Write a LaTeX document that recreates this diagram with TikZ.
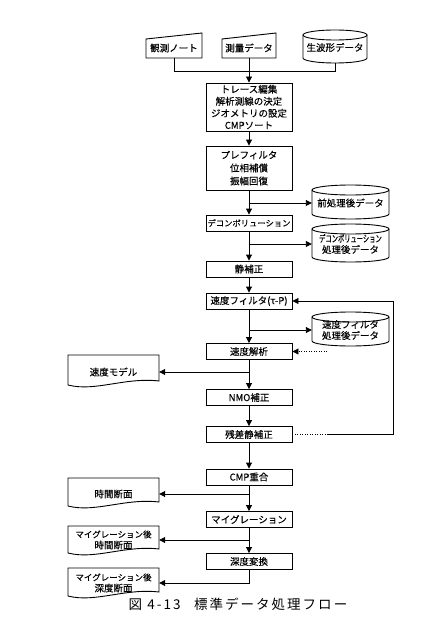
\documentclass[tikz,border=0pt]{standalone}
\usepackage{fontspec}
\usepackage{graphicx}
\setmainfont{Noto Sans CJK JP}[FakeBold=0.3]
\newfontfamily\capfont{Noto Sans CJK JP}[LetterSpace=15]
\usetikzlibrary{arrows.meta,calc}
\newcommand\mydrum[6]{%
  \pgfmathsetmacro\dcx{(#2+#4)/2}%
  \pgfmathsetmacro\drx{(#4-#2)/2}%
  \pgfmathsetmacro\dk{0.5523*\drx}%
  \draw[line] (#2,#3+5) -- (#2,#5-5) .. controls (#2,#5-2.24) and (\dcx-\dk,#5) .. (\dcx,#5) .. controls (\dcx+\dk,#5) and (#4,#5-2.24) .. (#4,#5-5) -- (#4,#3+5);
  \draw[line] (\dcx,#3+5) ellipse [x radius=\drx, y radius=5];
  \node[txt, minimum width={#4-#2}] (#1) at (\dcx,{(#3+#5)/2+1}) {#6};
  \coordinate (#1-b) at (\dcx,#5);
}
\newcommand\mydoc[5]{%
  \draw[line] (68,#2) -- (159,#2) -- (159,#3-4) .. controls (125,#3-8) and (95,#3+7) .. (68,#3) -- cycle;
  \node[txt, minimum width=91pt] (#1) at (113.5,#4) {#5};
}
\newcommand\mymanual[4]{%
  \draw[line] (#2,58) -- (#2,39) -- (#3,33) -- (#3,58) -- cycle;
  \node[txt, minimum width={#3-#2}] (#1) at ({(#2+#3)/2},48) {#4};
  \coordinate (#1-b) at ({(#2+#3)/2},58);
}
\begin{document}
\begin{tikzpicture}[x=1pt,y=-1pt,
  line/.style={line width=0.9pt},
  arr/.style={line, -{Triangle[length=6pt,width=6pt]}},
  dots/.style={dash pattern=on 1pt off 1.5pt},
  proc/.style={draw, line width=0.9pt, minimum width=86pt, minimum height=16pt, inner sep=0pt, align=center, font=\fontsize{9.5}{12}\selectfont},
  txt/.style={inner sep=0pt, align=center, font=\fontsize{9.5}{11}\selectfont}]
\useasboundingbox (0,0) rectangle (438,639);

% inputs
\mymanual{note}{146}{202}{観測ノート}
\mymanual{survey}{222}{276}{測量データ}
\mydrum{raw}{303}{30}{367}{63}{生波形データ}

% main process boxes
\node[proc, minimum height=48pt] (trace) at (249,107) {トレース編集\\解析測線の決定\\ジオメトリの設定\\CMPソート};
\node[proc, minimum height=44pt, font=\fontsize{9.5}{13}\selectfont] (pref) at (249,168) {プレフィルタ\\位相補償\\振幅回復};
\node[proc, font=\fontsize{8.3}{11}\selectfont] (decon) at (249,223) {デコンボリューション};
\node[proc] (stat) at (249,269) {静補正};
\node[proc] (vf) at (249,301) {速度フィルタ(τ-P)};
\node[proc] (va) at (249,351.5) {速度解析};
\node[proc] (nmo) at (249,397.5) {NMO補正};
\node[proc] (resid) at (249,434.5) {残差静補正};
\node[proc] (cmp) at (249,477) {CMP重合};
\node[proc] (mig) at (249,519.5) {マイグレーション};
\node[proc] (depth) at (249,561.5) {深度変換};

% data stores (right)
\mydrum{pre}{312}{185}{389}{219}{前処理後データ}
\mydrum{dcout}{312}{224}{389}{262}{\scalebox{0.66}[1]{デコンボリューション}\\処理後データ}
\mydrum{vfout}{312}{312}{389}{346}{速度フィルタ\\処理後データ}

% documents (left)
\mydoc{vm}{355}{385}{372}{速度モデル}
\mydoc{ts}{478}{506}{494}{時間断面}
\mydoc{mts}{526}{553}{540}{\fontsize{8.5}{11}\selectfont マイグレーション後\\時間断面}
\mydoc{mds}{568}{596}{583}{\fontsize{8.5}{11}\selectfont マイグレーション後\\深度断面}

% top connections
\coordinate (hl) at (0,71);
\draw[line] (note-b) -- (note-b |- hl) -| (raw-b);
\draw[arr] (trace.north |- survey-b) -- (trace.north);

% main flow
\draw[arr] (trace) -- (pref);
\draw[arr] (pref) -- (decon);
\draw[arr] (decon) -- (stat);
\draw[arr] (stat) -- (vf);
\draw[arr] (vf) -- (va);
\draw[arr] (va) -- (nmo);
\draw[arr] (nmo) -- (resid);
\draw[arr] (resid) -- (cmp);
\draw[arr] (cmp) -- (mig);
\draw[arr] (mig) -- (depth);

% branches right
\draw[arr] (pref.south |- pre.west) -- (pre.west);
\draw[arr] (decon.south |- dcout.west) -- (dcout.west);
\draw[arr] (vf.south |- vfout.west) -- (vfout.west);

% branches left
\draw[arr] (va.south |- vm.east) -- (vm.east);
\draw[arr] (cmp.south |- ts.east) -- (ts.east);
\draw[arr] (mig.south |- mts.east) -- (mts.east);
\draw[arr] (depth.south) -- (depth.south |- mds.east) -- (mds.east);

% feedback loop
\coordinate (fbd) at (327,434.5);
\coordinate (fbc) at (393,434.5);
\draw[line, dots] (resid.east) -- (fbd);
\draw[arr] (fbd) -- (fbc) |- (vf.east);
\coordinate (vad) at (327,351.5);
\draw[arr, dots] (vad) -- (va.east);

% caption
\node[inner sep=0pt, font=\capfont\fontsize{13.5}{15}\selectfont] (cap) at (238,604) {図 4-13\quad 標準データ処理フロー};
\end{tikzpicture}
\end{document}
